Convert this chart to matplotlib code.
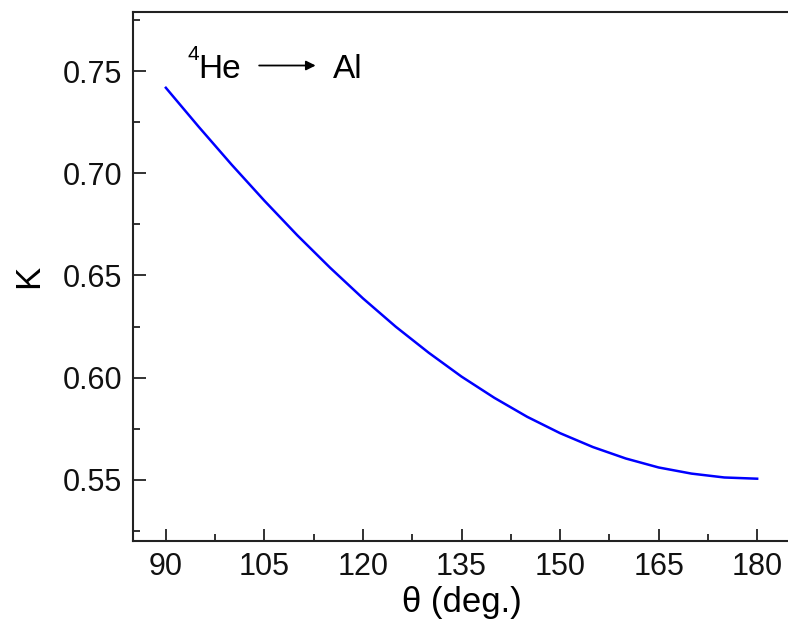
import numpy as np
import matplotlib.pyplot as plt
from matplotlib.ticker import MultipleLocator

plt.rcParams['font.family'] = ['Liberation Sans', 'DejaVu Sans']

# values
theta = [90, 95, 100, 105, 110, 115, 120, 125, 130, 135, 140, 145,
         150, 155, 160, 165, 170, 175, 180]
k_vals = [0.7419, 0.7228, 0.7043, 0.6866, 0.6697, 0.6538, 0.6388, 0.6249,
          0.6122, 0.6005, 0.5901, 0.5808, 0.5728, 0.5660, 0.5604, 0.5560,
          0.5530, 0.5511, 0.5505]

fig = plt.figure(figsize=(7.88, 6.21), dpi=100)
ax = fig.add_axes([133 / 788, 80 / 621, 657 / 788, 529 / 621])

ax.plot(theta, k_vals, color='#0000ff', linewidth=1.8)

ax.set_xlim(85, 185)
ax.set_ylim(0.52, 0.779)
ax.xaxis.set_major_locator(MultipleLocator(15))
ax.xaxis.set_minor_locator(MultipleLocator(7.5))
ax.yaxis.set_major_locator(MultipleLocator(0.05))
ax.yaxis.set_minor_locator(MultipleLocator(0.025))
ax.yaxis.set_major_formatter(plt.FormatStrFormatter('%.2f'))
ax.tick_params(which='both', direction='in', top=False, right=False,
               labelsize=22, width=1.3, colors='#222222', labelcolor='#111111')
ax.tick_params(which='major', length=9, pad=8)
ax.tick_params(which='minor', length=5)
for s in ax.spines.values():
    s.set_linewidth(1.5)
    s.set_color('#222222')
ax.spines['right'].set_visible(False)

ax.set_xlabel('\u03b8 (deg.)', fontsize=25, labelpad=3)
ax.set_ylabel('K', fontsize=25, labelpad=12)

ax.text(93.3, 0.7555, '4', fontsize=15, va='baseline', ha='left')
ax.text(94.9, 0.7469, 'He', fontsize=24, va='baseline', ha='left')
ax.annotate('', xy=(112.8, 0.7528), xytext=(104.2, 0.7528),
            arrowprops=dict(arrowstyle='-|>', color='black', lw=1.3,
                            mutation_scale=14, shrinkA=0, shrinkB=0))
ax.text(115.4, 0.7469, 'Al', fontsize=24, va='baseline', ha='left')

fig.savefig('out.png', dpi=100)
